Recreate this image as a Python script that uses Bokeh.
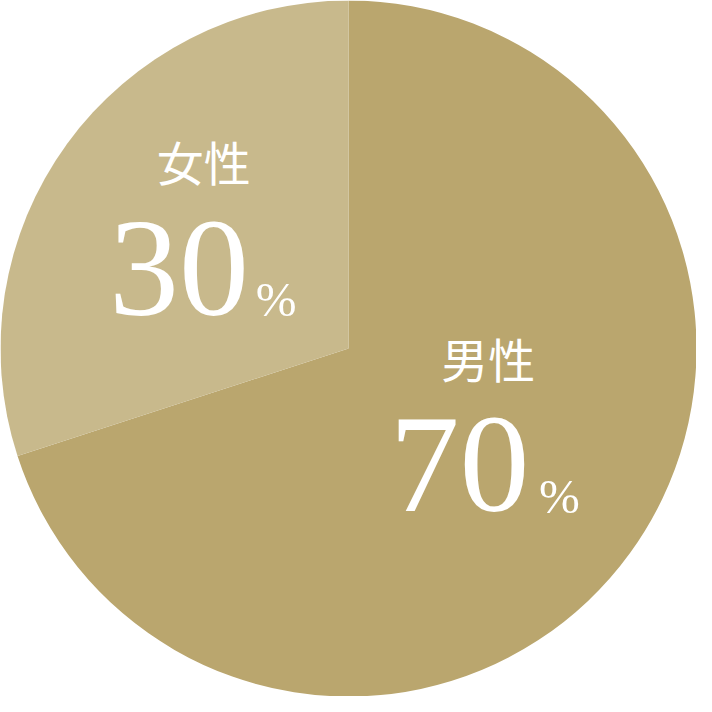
import math
from bokeh.plotting import figure
from bokeh.models import Range1d, ColumnDataSource
from bokeh.core.properties import value
from bokeh.embed import file_html
from bokeh.resources import INLINE

# data
labels = ["男性", "女性"]
percents = [70, 30]
pct_text = ["70", "30"]
colors = ["#BAA66E", "#C8B98C"]

# wedge angles (clockwise from 12 o'clock)
total = sum(percents)
starts, ends = [], []
acc = 0.0
for v in percents:
    a0 = math.pi / 2 - 2 * math.pi * acc / total
    acc += v
    a1 = math.pi / 2 - 2 * math.pi * acc / total
    starts.append(a0)
    ends.append(a1)

src = ColumnDataSource(dict(label=labels, pct=percents, start=starts, end=ends, color=colors))

W = 696
R = W / 2
K = W / 712.0  # scale from 712 reference layout

p = figure(width=W, height=W, output_backend="svg", toolbar_location=None,
           x_range=Range1d(-R, R), y_range=Range1d(-R, R),
           x_axis_location=None, y_axis_location=None, min_border=0,
           background_fill_color=None, border_fill_color=None)
p.outline_line_color = None
p.grid.visible = False

p.wedge(x=0, y=0, radius=R, start_angle="start", end_angle="end", direction="clock",
        fill_color="color", line_color=None, source=src)

def dx(sx):
    return sx * K - R
def dy(sy, shift=0.0):
    return R - (sy * K - shift)

NAME_FS = 47
NUM_FS = 140
PCT_FS = 49
BASE_CORR = 0.33  # baseline offset correction (fraction of font size)

name_pos = [(499, 365), (208, 164)]
num_pos = [(398, 522), (111, 322)]
pctsign_pos = [(551, 524), (261, 322)]

p.text(x=[dx(a) for a, b in name_pos], y=[dy(b) for a, b in name_pos], text=labels,
       text_font=value("Noto Sans CJK JP"), text_font_size=f"{NAME_FS}px", text_color="white",
       text_align="center", text_baseline="middle")
p.text(x=[dx(a) for a, b in num_pos], y=[dy(b, BASE_CORR * NUM_FS) for a, b in num_pos], text=pct_text,
       text_font=value("Liberation Serif"), text_font_size=f"{NUM_FS}px", text_color="white",
       text_align="left", text_baseline="alphabetic")
p.text(x=[dx(a) for a, b in pctsign_pos], y=[dy(b, BASE_CORR * PCT_FS) for a, b in pctsign_pos],
       text=["%", "%"],
       text_font=value("Liberation Serif"), text_font_size=f"{PCT_FS}px", text_color="white",
       text_align="left", text_baseline="alphabetic")

open("out.html", "w").write(file_html(p, INLINE))
